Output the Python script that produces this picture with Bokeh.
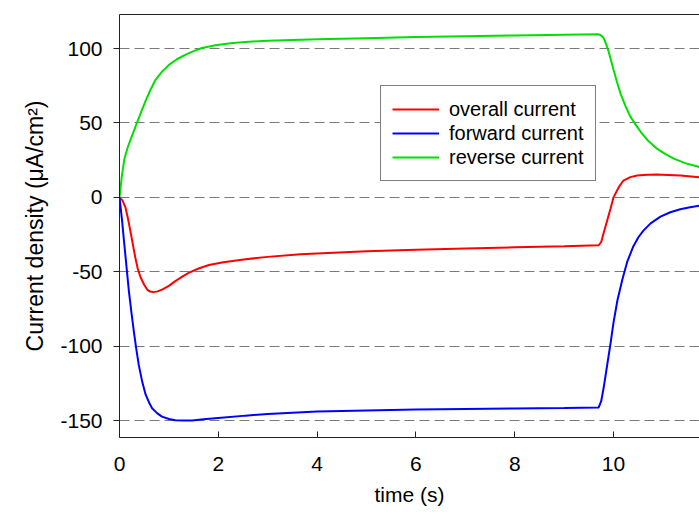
from bokeh.plotting import figure
from bokeh.models import LinearAxis, FixedTicker, Legend, LegendItem, Range1d, PrintfTickFormatter
from bokeh.embed import file_html
from bokeh.resources import INLINE

# time (s)
t_green = [0, 0.05, 0.1, 0.16, 0.22, 0.29, 0.36, 0.44, 0.53, 0.63, 0.73, 0.86, 1.0, 1.17, 1.34, 1.5, 1.67, 1.94, 2.25,
           2.55, 3.0, 4.0, 5.0, 6.0, 7.0, 8.0, 9.0, 9.7,
           9.75, 9.8, 9.85, 9.9, 10.0, 10.07, 10.14, 10.24, 10.34, 10.45, 10.55, 10.7, 10.88, 11.05, 11.22, 11.45, 11.74]
reverse = [0, 15, 26, 33, 38.5, 44.5, 50.7, 57.5, 65, 72.5, 79, 84.5, 89, 93, 95.9, 98.3, 100.4, 102.2, 103.5,
           104.5, 105.3, 106.3, 107, 107.7, 108.3, 108.8, 109.3, 109.6,
           108.8, 107, 103, 98, 85.7, 77.5, 69.9, 61.5, 54.3, 48.7, 44, 38, 32.7, 29, 26, 23, 20.4]

t_red = [0, 0.06, 0.12, 0.17, 0.22, 0.27, 0.32, 0.37, 0.43, 0.5, 0.56, 0.62, 0.69, 0.77, 0.86, 1.0, 1.13, 1.27, 1.4,
         1.6, 1.81, 2.1, 2.55, 3.0, 3.66, 5.0, 6.0, 7.0, 8.0, 9.0, 9.7,
         9.75, 9.8, 9.87, 9.94, 10.0, 10.1, 10.2, 10.34, 10.48, 10.68, 10.88, 11.1, 11.36, 11.74]
overall = [0, -2, -6.7, -14, -22.5, -31.5, -40.5, -48, -54, -58.7, -62, -63.3, -63.7, -63.2, -62, -59.5, -56.3, -53.3, -50.7,
           -47.8, -45.5, -43.6, -41.6, -40, -38.2, -36.2, -35.2, -34.4, -33.6, -32.8, -32.2,
           -30, -24, -15.7, -7.5, 0, 6.5, 11.3, 13.6, 14.7, 15.2, 15.3, 15.1, 14.7, 13.5]

t_blue = [0, 0.05, 0.09, 0.14, 0.19, 0.24, 0.29, 0.34, 0.39, 0.46, 0.53, 0.6, 0.66, 0.76, 0.86, 1.0, 1.13, 1.3, 1.47,
          1.7, 1.94, 2.55, 3.0, 4.0, 5.0, 6.0, 7.0, 8.0, 9.0, 9.7,
          9.75, 9.8, 9.87, 9.94, 10.0, 10.08, 10.18, 10.28, 10.4, 10.5, 10.6, 10.75, 10.95, 11.15, 11.35, 11.55, 11.74]
forward = [0, -15, -29, -46, -63, -77, -90, -102, -112.6, -124, -132.6, -138, -141.8, -145, -147.4, -149, -149.8, -150, -149.9,
           -149.2, -148.5, -146.7, -145.6, -144, -143.2, -142.6, -142.2, -141.9, -141.5, -141.2,
           -137, -128, -113, -98, -84, -69, -55, -43, -33, -27, -22.5, -17.5, -13, -10, -8, -6.6, -5.6]

x_ticks = [0, 2, 4, 6, 8, 10]
y_ticks = [-150, -100, -50, 0, 50, 100]

FONT = "Liberation Sans"

p = figure(frame_width=580, frame_height=423, output_backend="svg", toolbar_location=None,
           x_range=Range1d(0, 11.74), y_range=Range1d(-161.4, 122.9),
           min_border_left=119, min_border_right=0, min_border_top=14, min_border_bottom=75,
           x_axis_label="time (s)", y_axis_label="Current density (μA/cm²)")
p.outline_line_color = None
p.background_fill_color = "white"
p.border_fill_color = "white"

p.xgrid.grid_line_color = None
p.ygrid.ticker = FixedTicker(ticks=y_ticks)
p.ygrid.grid_line_color = "#7a7a7a"
p.ygrid.grid_line_dash = "10 5"
p.ygrid.grid_line_width = 1

xa = p.xaxis[0]
xa.ticker = FixedTicker(ticks=x_ticks)
xa.major_tick_in = 6
xa.major_tick_out = 0
xa.minor_tick_line_color = None
xa.major_label_standoff = 19
xa.axis_label_standoff = 9
ya = p.yaxis[0]
ya.ticker = FixedTicker(ticks=y_ticks)
ya.major_tick_in = 0
ya.major_tick_out = 6
ya.minor_tick_line_color = None
ya.major_label_standoff = 11
ya.axis_label_standoff = 9
for ax in (xa, ya):
    ax.formatter = PrintfTickFormatter(format="%d")
    ax.axis_line_color = "#222222"
    ax.major_tick_line_color = "#222222"
    ax.major_label_text_font = FONT
    ax.major_label_text_font_size = "21px"
    ax.major_label_text_color = "black"
    ax.axis_label_text_font = FONT
    ax.axis_label_text_font_style = "normal"
    ax.axis_label_text_color = "black"
xa.axis_label_text_font_size = "21px"
ya.axis_label_text_font_size = "23px"

top = LinearAxis(ticker=FixedTicker(ticks=[]), axis_line_color="#222222",
                 major_tick_line_color=None, minor_tick_line_color=None,
                 major_label_text_font_size="0px")
p.add_layout(top, "above")

r_red = p.line(t_red, overall, line_color="#ff0000", line_width=2)
r_blue = p.line(t_blue, forward, line_color="#0000ff", line_width=2)
r_green = p.line(t_green, reverse, line_color="#00e000", line_width=2)

legend = Legend(items=[LegendItem(label="overall current", renderers=[r_red]),
                       LegendItem(label="forward current", renderers=[r_blue]),
                       LegendItem(label="reverse current", renderers=[r_green])],
                location=(261, 256))
legend.label_text_font = FONT
legend.label_text_font_size = "20px"
legend.label_text_color = "black"
legend.border_line_color = "black"
legend.border_line_width = 1
legend.background_fill_color = "white"
legend.background_fill_alpha = 1
legend.glyph_width = 47
legend.glyph_height = 24
legend.label_height = 24
legend.label_standoff = 10
legend.spacing = 0
legend.padding = 11
legend.margin = 0
p.add_layout(legend, "center")

open("out.html", "w").write(file_html(p, INLINE))
